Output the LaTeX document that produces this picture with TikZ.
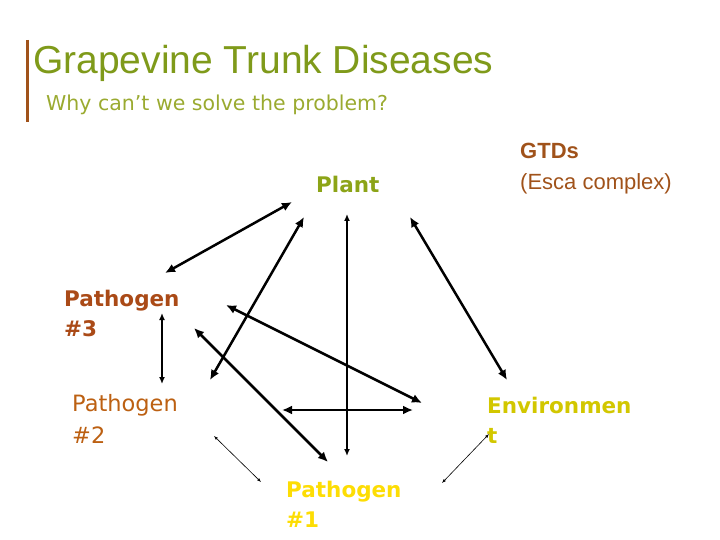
\documentclass[tikz,border=0pt]{standalone}
\usepackage{fontspec}
\setmainfont{Liberation Sans}
\newfontfamily\vf{DejaVu Sans}
\begin{document}
\begin{tikzpicture}[x=1pt,y=-1pt,
 lab/.style={anchor=base west,inner sep=0pt,font=\vf\bfseries\fontsize{21.5}{30}\selectfont,align=left},
 ar/.style={<->,>={Latex[length=10pt,width=9pt]},line width=2.5pt},
 art/.style={<->,>={Latex[length=7pt,width=6pt]},line width=1.4pt},
 arth/.style={<->,>={Latex[length=4pt,width=3pt]},line width=0.6pt}]
\usetikzlibrary{arrows.meta}
\useasboundingbox (0,0) rectangle (720,540);
\definecolor{tgreen}{HTML}{7F9A1A}
\definecolor{sgreen}{HTML}{9AAA30}
\definecolor{brn}{HTML}{A0521A}
\draw[brn,line width=3pt] (27,40) -- (27,122);
\node[anchor=base west,inner sep=0pt,text=tgreen,font=\fontsize{39}{40}\selectfont] (t) at (33,74) {Grapevine Trunk Diseases};
\node[anchor=base west,inner sep=0pt,text=sgreen,font=\vf\fontsize{20.5}{22}\selectfont] (s) at (46,111) {Why can’t we solve the problem?};
\node[lab,text=tgreen!90!yellow] (plant) at (316,193) {Plant};
\node[anchor=base west,inner sep=0pt,text=brn,font=\fontsize{22}{32}\selectfont,align=left] (gtd) at (520,190) {\textbf{GTDs}\\(Esca complex)};
\node[lab,text=brn!90!red] (p3) at (64,336) {Pathogen\\\#3};
\node[lab,text=brn!70!orange,font=\fontsize{22.5}{32}\selectfont\vf] (p2) at (72,443) {Pathogen\\\#2};
\node[lab,text=yellow!60!olive] (env) at (487,443) {Environmen\\t};
\node[lab,text=yellow!80!orange] (p1) at (286,527) {Pathogen\\\#1};
\coordinate (a1) at (165,273); \coordinate (b1) at (292,202);
\coordinate (a2) at (210,380); \coordinate (b2) at (304,217);
\coordinate (a3) at (347,214); \coordinate (b3) at (347,456);
\coordinate (a4) at (410,217); \coordinate (b4) at (507,380);
\coordinate (a5) at (226,305); \coordinate (b5) at (422,403);
\coordinate (a6) at (162,313); \coordinate (b6) at (162,384);
\coordinate (a7) at (282,410); \coordinate (b7) at (413,410);
\coordinate (a8) at (194,328); \coordinate (b8) at (328,462);
\coordinate (a9) at (214,436); \coordinate (b9) at (261,482);
\coordinate (a10) at (442,483); \coordinate (b10) at (489,434);
\draw[ar] (a1)--(b1); \draw[ar] (a2)--(b2); \draw[art] (a3)--(b3);
\draw[ar] (a4)--(b4); \draw[ar] (a5)--(b5); \draw[art] (a6)--(b6);
\draw[ar] (a7)--(b7); \draw[ar] (a8)--(b8);
\draw[arth] (a9)--(b9); \draw[arth] (a10)--(b10);
\end{tikzpicture}
\end{document}
